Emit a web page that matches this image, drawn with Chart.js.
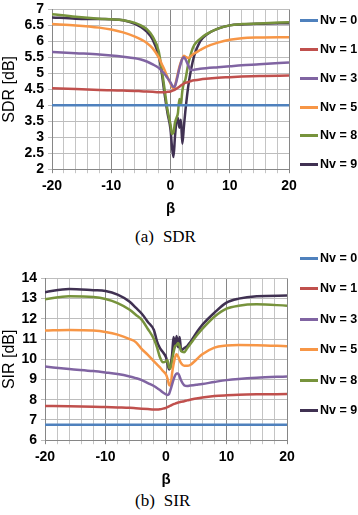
<!DOCTYPE html>
<html>
<head>
<meta charset="utf-8">
<script src="https://cdn.jsdelivr.net/npm/chart.js@4.4.1/dist/chart.umd.min.js"></script>
<style>
  body { margin: 0; background: #fff; width: 358px; height: 515px; position: relative; overflow: hidden; font-family: "Liberation Sans", Arial, sans-serif; }
  canvas { position: absolute; left: 0; }
  #sdrChart { top: -3px; }
  #sirChart { top: 266px; }
  .caption { position: absolute; left: 135px; font-family: "Liberation Serif", "Times New Roman", serif; font-size: 17px; line-height: 17px; color: #000; white-space: nowrap; }
  .caption span { margin-left: 9px; }
  .legend-item { position: absolute; left: 300px; height: 16px; width: 58px; }
  .legend-item i { position: absolute; left: 0; top: 7px; width: 18px; height: 3px; }
  .legend-item b { position: absolute; left: 20px; top: 0; font-size: 12.5px; line-height: 16px; color: #000; white-space: nowrap; }
</style>
</head>
<body>
<canvas id="sdrChart" width="358" height="221"></canvas>
<div class="caption" style="top:228px">(a)<span>SDR</span></div>
<canvas id="sirChart" width="358" height="223"></canvas>
<div class="caption" style="top:492px">(b)<span>SIR</span></div>
<div id="sdrLegend"></div>
<div id="sirLegend"></div>
<script>
// beta values (x axis)
const beta = [-20, -16, -12, -10, -8, -6, -5, -4, -3, -2, -1.5, -1, -0.5, 0, 0.25, 0.5, 0.75, 1, 1.25, 1.5, 1.75, 2, 2.25, 2.5, 3, 3.5, 4, 5, 6, 8, 10, 12, 15, 20];

const seriesNames = ['Nv = 0', 'Nv = 1', 'Nv = 3', 'Nv = 5', 'Nv = 8', 'Nv = 9'];

// SDR [dB]
const sdr0 = [4, 4, 4, 4, 4, 4, 4, 4, 4, 4, 4, 4, 4, 4, 4, 4, 4, 4, 4, 4, 4, 4, 4, 4, 4, 4, 4, 4, 4, 4, 4, 4, 4, 4];
const sdr1 = [4.53, 4.51, 4.48, 4.47, 4.46, 4.45, 4.44, 4.43, 4.42, 4.41, 4.41, 4.41, 4.42, 4.43, 4.45, 4.47, 4.49, 4.52, 4.55, 4.58, 4.62, 4.65, 4.68, 4.70, 4.73, 4.76, 4.78, 4.81, 4.83, 4.86, 4.88, 4.90, 4.92, 4.93];
const sdr3 = [5.67, 5.63, 5.59, 5.56, 5.52, 5.47, 5.43, 5.37, 5.28, 5.17, 5.08, 4.98, 4.85, 4.72, 4.63, 4.57, 4.60, 4.75, 4.95, 5.15, 5.32, 5.45, 5.50, 5.45, 5.25, 5.10, 5.11, 5.14, 5.16, 5.19, 5.22, 5.25, 5.28, 5.34];
const sdr5 = [6.54, 6.50, 6.43, 6.37, 6.28, 6.15, 6.06, 5.95, 5.78, 5.50, 5.30, 5.10, 4.88, 4.68, 4.58, 4.52, 4.60, 4.80, 5.00, 5.20, 5.35, 5.47, 5.55, 5.52, 5.48, 5.55, 5.62, 5.73, 5.83, 5.96, 6.05, 6.10, 6.12, 6.13];
const sdr8 = [6.85, 6.77, 6.71, 6.69, 6.66, 6.58, 6.50, 6.38, 6.15, 5.70, 5.15, 4.50, 3.85, 3.40, 3.10, 3.15, 3.45, 3.60, 3.75, 4.20, 4.05, 4.45, 4.70, 4.80, 5.30, 5.65, 5.88, 6.08, 6.22, 6.40, 6.50, 6.54, 6.56, 6.60];
const sdr9 = [6.75, 6.71, 6.70, 6.69, 6.66, 6.55, 6.45, 6.30, 6.05, 5.55, 5.05, 4.35, 3.75, 3.25, 2.70, 2.38, 3.00, 3.50, 3.60, 3.30, 3.55, 2.80, 3.30, 3.80, 4.60, 5.15, 5.55, 6.00, 6.20, 6.40, 6.50, 6.53, 6.55, 6.57];

// SIR [dB]
const sir0 = [6.77, 6.77, 6.77, 6.77, 6.77, 6.77, 6.77, 6.77, 6.77, 6.77, 6.77, 6.77, 6.77, 6.77, 6.77, 6.77, 6.77, 6.77, 6.77, 6.77, 6.77, 6.77, 6.77, 6.77, 6.77, 6.77, 6.77, 6.77, 6.77, 6.77, 6.77, 6.77, 6.77, 6.77];
const sir1 = [7.69, 7.68, 7.66, 7.64, 7.62, 7.60, 7.58, 7.56, 7.54, 7.52, 7.52, 7.53, 7.56, 7.60, 7.63, 7.67, 7.71, 7.75, 7.78, 7.81, 7.84, 7.86, 7.88, 7.90, 7.93, 7.97, 8.00, 8.06, 8.11, 8.18, 8.22, 8.25, 8.27, 8.28];
const sir3 = [9.64, 9.52, 9.42, 9.35, 9.27, 9.15, 9.07, 8.97, 8.82, 8.68, 8.58, 8.48, 8.36, 8.27, 8.24, 8.28, 8.50, 8.75, 9.00, 9.20, 9.30, 9.30, 9.15, 8.95, 8.72, 8.68, 8.70, 8.74, 8.78, 8.88, 8.97, 9.03, 9.09, 9.15];
const sir5 = [11.42, 11.45, 11.42, 11.35, 11.22, 11.00, 10.85, 10.50, 10.22, 9.90, 9.75, 9.60, 9.42, 9.25, 9.05, 8.75, 8.70, 9.30, 9.75, 10.10, 10.25, 10.15, 9.95, 9.80, 9.68, 9.68, 9.72, 9.98, 10.25, 10.58, 10.68, 10.71, 10.70, 10.65];
const sir8 = [12.97, 13.12, 13.08, 12.98, 12.78, 12.45, 12.20, 11.95, 11.50, 11.00, 10.60, 10.10, 9.85, 9.90, 9.95, 9.60, 9.55, 9.95, 10.35, 10.65, 10.70, 10.80, 10.65, 10.40, 10.35, 10.55, 10.75, 11.15, 11.50, 12.10, 12.50, 12.65, 12.72, 12.65];
const sir9 = [13.32, 13.48, 13.42, 13.38, 13.20, 12.85, 12.55, 12.25, 11.85, 11.45, 10.90, 10.55, 10.35, 10.10, 9.80, 9.50, 9.70, 10.20, 11.10, 10.60, 11.15, 10.60, 11.10, 10.45, 10.55, 10.65, 10.85, 11.30, 11.70, 12.30, 12.80, 13.00, 13.12, 13.15];

const colors = ['#4F81BD', '#C0504D', '#8064A2', '#F79646', '#77933C', '#403152'];
const font = '"Liberation Sans", Arial, sans-serif';

function makeDatasets(seriesList) {
  return seriesList.map((vals, i) => ({
    label: seriesNames[i],
    data: beta.map((b, j) => ({ x: b, y: vals[j] })),
    borderColor: colors[i],
    backgroundColor: colors[i],
    borderWidth: 2.5,
    pointRadius: 0,
    cubicInterpolationMode: 'monotone',
    fill: false
  }));
}

function makeChart(id, seriesList, yTitle, yMin, yMax, yStep, axisWidth, padRight) {
  const ctx = document.getElementById(id).getContext('2d');
  return new Chart(ctx, {
    type: 'line',
    data: { datasets: makeDatasets(seriesList) },
    options: {
      responsive: false,
      animation: false,
      devicePixelRatio: 1,
      layout: { padding: { left: 0, right: padRight, top: 0, bottom: 0 } },
      plugins: { legend: { display: false }, tooltip: { enabled: false } },
      scales: {
        x: {
          type: 'linear', min: -20, max: 20,
          ticks: {
            stepSize: 2, autoSkip: false, maxRotation: 0, padding: 5, color: '#000',
            font: { family: font, size: 14, weight: 'bold' },
            callback: v => (v % 10 === 0 ? String(v) : '')
          },
          grid: {
            color: c => (c.tick && c.tick.value % 10 === 0 ? '#868686' : '#C4C4C4'),
            tickLength: 4
          },
          border: { color: '#868686' },
          title: { display: true, text: 'β', color: '#000', font: { family: font, size: 15, weight: 'bold' }, padding: { top: 0, bottom: 0 } }
        },
        y: {
          min: yMin, max: yMax,
          ticks: {
            stepSize: yStep, autoSkip: false, padding: 4, color: '#000',
            font: { family: font, size: 14, weight: 'bold' },
            callback: v => String(v)
          },
          grid: { color: '#BDBDBD', tickLength: 4 },
          border: { color: '#868686' },
          title: { display: true, text: yTitle, color: '#000', font: { family: font, size: 16 }, padding: { top: 0, bottom: 0 } },
          afterFit: s => { s.width = axisWidth; }
        }
      }
    }
  });
}

function buildLegend(id, centers) {
  const box = document.getElementById(id);
  seriesNames.forEach((name, i) => {
    const item = document.createElement('div');
    item.className = 'legend-item';
    item.style.top = (centers[i] - 8) + 'px';
    const line = document.createElement('i');
    line.style.background = colors[i];
    const label = document.createElement('b');
    label.textContent = name;
    item.appendChild(line);
    item.appendChild(label);
    box.appendChild(item);
  });
}

makeChart('sdrChart', [sdr0, sdr1, sdr3, sdr5, sdr8, sdr9], 'SDR [dB]', 2, 7, 0.5, 52, 69);
makeChart('sirChart', [sir0, sir1, sir3, sir5, sir8, sir9], 'SIR [dB]', 6, 14, 1, 45, 71);

buildLegend('sdrLegend', [20, 49, 78, 107, 135, 164]);
buildLegend('sirLegend', [258, 288, 319, 349, 380, 410]);
</script>
</body>
</html>
